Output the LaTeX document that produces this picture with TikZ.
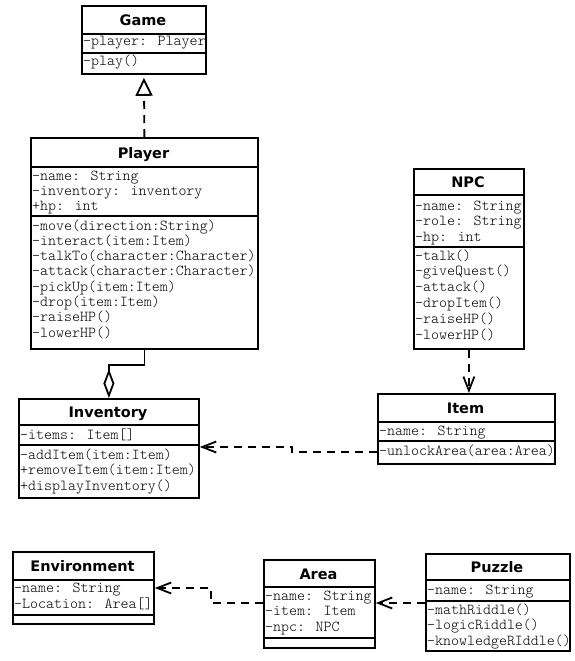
\documentclass[tikz,border=0pt]{standalone}
\usepackage{fontspec}
\newfontfamily\umlmono{lmmonolt10-regular}[Extension=.otf]
\newfontfamily\umlsans{DejaVu Sans}
\usetikzlibrary{arrows.meta}
\begin{document}
\begin{tikzpicture}[x=1pt,y=-1pt,
  cbox/.style={draw, line width=1.8pt, inner sep=0pt, anchor=north west, fill=white},
  sepline/.style={line width=1.5pt},
  mem/.style={anchor=west, inner sep=0pt, font=\umlmono\fontsize{15.2}{15}\selectfont, text height=9pt, text depth=3pt},
  ttl/.style={inner sep=0pt, font=\umlsans\bfseries\fontsize{14.5}{16}\selectfont, text height=10.5pt, text depth=0pt},
  conn/.style={line width=1.8pt},
  umldep/.style={conn, dash pattern=on 8pt off 6pt, -{Straight Barb[length=14pt,width=11pt]}},
  umlreal/.style={conn, dash pattern=on 8pt off 6pt, -{Triangle[fill=white,length=18pt,width=17pt]}, shorten >=3pt},
  umlaggr/.style={conn, {Diamond[fill=white,length=29pt,width=11pt]}-},
]
\fill[white] (0,0) rectangle (575,661);
\useasboundingbox (0,0) rectangle (575,661);

% Game
\node[cbox, minimum width=124pt, minimum height=68pt] (game) at (81,5) {};
\draw[sepline] (game.west |- 0,34) -- (game.east |- 0,34);
\draw[sepline] (game.west |- 0,53) -- (game.east |- 0,53);
\node[ttl] (game-t) at (143,20) {Game};
\node[mem] (game-a0) at (83,43) {-player: Player};
\node[mem] (game-o0) at (83,63) {-play()};

% Player
\node[cbox, minimum width=227pt, minimum height=211pt] (player) at (30,137) {};
\draw[sepline] (player.west |- 0,167) -- (player.east |- 0,167);
\draw[sepline] (player.west |- 0,216) -- (player.east |- 0,216);
\node[ttl] (player-t) at (143.5,153) {Player};
\foreach \t [count=\i from 0] in {{-name: String},{-inventory: inventory},{+hp: int}}
  \node[mem] (player-a\i) at (32,{177+15*\i}) {\t};
\foreach \t [count=\i from 0] in {{-move(direction:String)},{-interact(item:Item)},{-talkTo(character:Character)},{-attack(character:Character)},{-pickUp(item:Item)},{-drop(item:Item)},{-raiseHP()},{-lowerHP()}}
  \node[mem] (player-o\i) at (32,{227+15.3*\i}) {\t};

% NPC
\node[cbox, minimum width=110pt, minimum height=180pt] (npc) at (413,168) {};
\draw[sepline] (npc.west |- 0,195) -- (npc.east |- 0,195);
\draw[sepline] (npc.west |- 0,247) -- (npc.east |- 0,247);
\node[ttl] (npc-t) at (468,182) {NPC};
\foreach \t [count=\i from 0] in {{-name: String},{-role: String},{-hp: int}}
  \node[mem] (npc-a\i) at (415,{207+15.5*\i}) {\t};
\foreach \t [count=\i from 0] in {{-talk()},{-giveQuest()},{-attack()},{-dropItem()},{-raiseHP()},{-lowerHP()}}
  \node[mem] (npc-o\i) at (415,{257+15.8*\i}) {\t};

% Item
\node[cbox, minimum width=177pt, minimum height=70pt] (item) at (377,393) {};
\draw[sepline] (item.west |- 0,422) -- (item.east |- 0,422);
\draw[sepline] (item.west |- 0,441) -- (item.east |- 0,441);
\node[ttl] (item-t) at (465.5,408) {Item};
\node[mem] (item-a0) at (379,432) {-name: String};
\node[mem] (item-o0) at (379,452) {-unlockArea(area:Area)};

% Inventory
\node[cbox, minimum width=180pt, minimum height=99pt] (inventory) at (18,398) {};
\draw[sepline] (inventory.west |- 0,425) -- (inventory.east |- 0,425);
\draw[sepline] (inventory.west |- 0,445) -- (inventory.east |- 0,445);
\node[ttl] (inventory-t) at (108,412) {Inventory};
\node[mem] (inventory-a0) at (20,436) {-items: Item[]};
\foreach \t [count=\i from 0] in {{-addItem(item:Item)},{+removeItem(item:Item)},{+displayInventory()}}
  \node[mem] (inventory-o\i) at (20,{456+15.5*\i}) {\t};

% Environment
\node[cbox, minimum width=141pt, minimum height=72pt] (environment) at (12,551) {};
\draw[sepline] (environment.west |- 0,580) -- (environment.east |- 0,580);
\draw[sepline] (environment.west |- 0,615) -- (environment.east |- 0,615);
\node[ttl] (environment-t) at (82.5,566) {Environment};
\foreach \t [count=\i from 0] in {{-name: String},{-Location: Area[]}}
  \node[mem] (environment-a\i) at (14,{589+16*\i}) {\t};

% Area
\node[cbox, minimum width=111pt, minimum height=88pt] (area) at (263,559) {};
\draw[sepline] (area.west |- 0,587) -- (area.east |- 0,587);
\draw[sepline] (area.west |- 0,638) -- (area.east |- 0,638);
\node[ttl] (area-t) at (318.5,574) {Area};
\foreach \t [count=\i from 0] in {{-name: String},{-item: Item},{-npc: NPC}}
  \node[mem] (area-a\i) at (265,{597+15.5*\i}) {\t};

% Puzzle
\node[cbox, minimum width=144pt, minimum height=97pt] (puzzle) at (425,553) {};
\draw[sepline] (puzzle.west |- 0,580) -- (puzzle.east |- 0,580);
\draw[sepline] (puzzle.west |- 0,601) -- (puzzle.east |- 0,601);
\node[ttl] (puzzle-t) at (497,567) {Puzzle};
\node[mem] (puzzle-a0) at (427,591) {-name: String};
\foreach \t [count=\i from 0] in {{-mathRiddle()},{-logicRiddle()},{-knowledgeRIddle()}}
  \node[mem] (puzzle-o\i) at (427,{611+15.5*\i}) {\t};

% Connectors
\draw[umlreal] (player.north) -- (game.south);
\draw[umlaggr] (inventory.north) -- (inventory.north |- 0,365) -- (player.south |- 0,365) -- (player.south);
\draw[umldep] (npc.south) -- (npc.south |- item.north);
\draw[umldep] (item.west |- 0,452) -- (292,452) -- (292,447) -- (inventory.east |- 0,447);
\draw[umldep] (area.west |- 0,603) -- (211,603) -- (211,588) -- (environment.east |- 0,588);
\draw[umldep] (puzzle.west |- 0,603) -- (area.east |- 0,603);
\end{tikzpicture}
\end{document}
